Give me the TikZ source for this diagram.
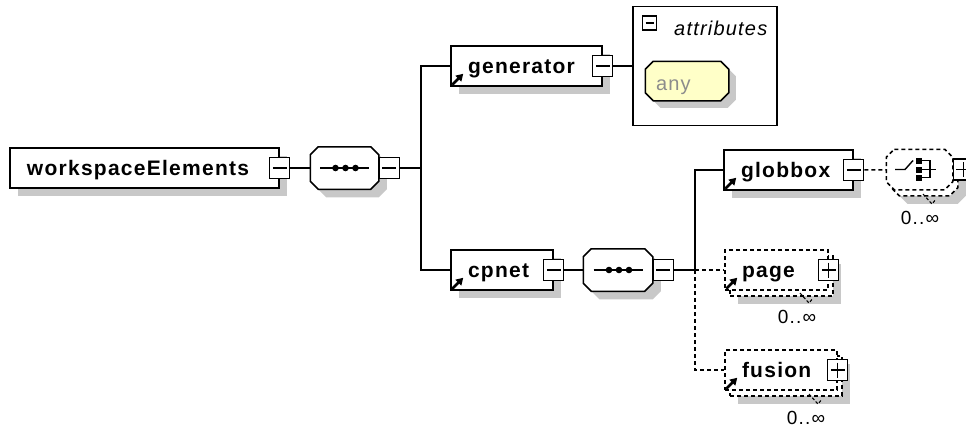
\documentclass[tikz,border=0pt]{standalone}
\usepackage{fontspec}
\setmainfont{Liberation Sans}
\newfontfamily\xsdfont[LetterSpace=6]{Liberation Sans}
\usetikzlibrary{arrows.meta,shadows}
\definecolor{shadegray}{RGB}{200,200,200}
\definecolor{anyfill}{RGB}{255,255,200}
\definecolor{anytext}{RGB}{140,140,140}

% rectangle with cut corners, for compositors and wildcards
\makeatletter
\pgfkeys{/pgf/octagon cut/.initial=8pt}
\pgfdeclareshape{octagon box}{
  \inheritsavedanchors[from=rectangle]
  \inheritanchorborder[from=rectangle]
  \inheritanchor[from=rectangle]{center}
  \inheritanchor[from=rectangle]{north}
  \inheritanchor[from=rectangle]{south}
  \inheritanchor[from=rectangle]{east}
  \inheritanchor[from=rectangle]{west}
  \inheritanchor[from=rectangle]{north east}
  \inheritanchor[from=rectangle]{north west}
  \inheritanchor[from=rectangle]{south east}
  \inheritanchor[from=rectangle]{south west}
  \inheritanchor[from=rectangle]{base}
  \inheritanchor[from=rectangle]{mid}
  \backgroundpath{%
    \pgfmathsetlengthmacro\octCut{\pgfkeysvalueof{/pgf/octagon cut}}%
    \southwest \edef\octL{\the\pgf@x}\edef\octB{\the\pgf@y}%
    \northeast \edef\octR{\the\pgf@x}\edef\octT{\the\pgf@y}%
    \pgfmathsetlengthmacro\octLc{\octL+\octCut}%
    \pgfmathsetlengthmacro\octRc{\octR-\octCut}%
    \pgfmathsetlengthmacro\octBc{\octB+\octCut}%
    \pgfmathsetlengthmacro\octTc{\octT-\octCut}%
    \pgfpathmoveto{\pgfpoint{\octLc}{\octT}}%
    \pgfpathlineto{\pgfpoint{\octRc}{\octT}}%
    \pgfpathlineto{\pgfpoint{\octR}{\octTc}}%
    \pgfpathlineto{\pgfpoint{\octR}{\octBc}}%
    \pgfpathlineto{\pgfpoint{\octRc}{\octB}}%
    \pgfpathlineto{\pgfpoint{\octLc}{\octB}}%
    \pgfpathlineto{\pgfpoint{\octL}{\octBc}}%
    \pgfpathlineto{\pgfpoint{\octL}{\octTc}}%
    \pgfpathclose
  }
}
\makeatother

\begin{document}
\begin{tikzpicture}[x=1pt, y=-1pt, line join=miter,
    elembase/.style={draw, line width=1.5pt, fill=white, inner xsep=17pt, inner ysep=0pt,
      minimum height=40pt, text height=17pt, text depth=3pt, align=left,
      font=\xsdfont\bfseries\fontsize{21}{21}\selectfont},
    elem/.style={elembase,
      general shadow={fill=shadegray, shadow xshift=8pt, shadow yshift=-8pt}},
    optelem/.style={elembase, dash pattern=on 4pt off 3pt,
      general shadow={fill=shadegray, shadow xshift=13pt, shadow yshift=-14pt},
      general shadow={draw=black, fill=white, line width=1.5pt, dash pattern=on 4pt off 3pt,
        shadow xshift=5pt, shadow yshift=-6pt}},
    compo/.style={octagon box, octagon cut=8pt, draw, line width=1.5pt,
      fill=white, inner sep=0pt, minimum height=41pt},
    seqcompo/.style={compo,
      general shadow={fill=shadegray, shadow xshift=8pt, shadow yshift=-8pt},
      path picture={
        \begin{scope}[shift={(path picture bounding box.center)}, solid, fill=black]
          \draw[line width=1.4pt] (-24.5,0) -- (24.5,0);
          \foreach \dx in {-9,1,11} \fill (\dx,0) circle (3.3pt);
        \end{scope}}},
    chocompo/.style={compo, dash pattern=on 4pt off 3pt,
      general shadow={fill=shadegray, shadow xshift=13pt, shadow yshift=-14pt},
      general shadow={draw=black, fill=white, line width=1.5pt, dash pattern=on 4pt off 3pt,
        shadow xshift=5pt, shadow yshift=-6pt},
      path picture={
        \begin{scope}[shift={(path picture bounding box.center)}, line width=1.4pt, solid, fill=black]
          \draw (-24.5,0) -- (-14.5,0) -- (-6.5,-9);
          \foreach \dy in {-9,0,8} \fill (-3.5,\dy-3) rectangle (2.5,\dy+3);
          \draw (2,-9) -- (10.5,-9) -- (10.5,8) -- (2,8);
          \draw (2,0) -- (16.5,0);
        \end{scope}}},
    minusbtn/.style={draw, fill=white, line width=1.3pt, inner sep=0pt, solid,
      minimum width=20pt, minimum height=21pt,
      path picture={\draw[line width=1.3pt]
        ([xshift=3pt]path picture bounding box.west) -- ([xshift=-3pt]path picture bounding box.east);}},
    plusbtn/.style={minusbtn,
      path picture={\draw[line width=1.3pt]
        ([xshift=3pt]path picture bounding box.west) -- ([xshift=-3pt]path picture bounding box.east)
        ([yshift=-3pt]path picture bounding box.north) -- ([yshift=3pt]path picture bounding box.south);}},
    smallminus/.style={minusbtn, line width=1.2pt, minimum width=14pt, minimum height=14pt},
    anyoct/.style={octagon box, octagon cut=8pt, draw, line width=1.5pt,
      fill=anyfill, inner sep=0pt, minimum width=82pt, minimum height=38pt,
      text width=62pt, align=left, text height=18pt, text depth=0pt, text=anytext,
      font=\xsdfont\fontsize{20}{20}\selectfont,
      general shadow={fill=shadegray, shadow xshift=7pt, shadow yshift=-7pt}},
    occ/.style={inner sep=0pt, font=\xsdfont\fontsize{19}{19}\selectfont},
    occtick/.style={line width=1.1pt, dash pattern=on 3pt off 2pt},
    conn/.style={line width=1.5pt},
    dconn/.style={conn, dash pattern=on 4pt off 3pt},
    refmark/.style={line width=2.6pt, -{Triangle[length=7pt,width=8pt]}}]
  \clip (0,0) rectangle (966,429);
  % root element and its sequence
  \node[elem, text width=235pt] (wE) at (144.5,168) {workspaceElements};
  \node[minusbtn] (wEb) at (wE.east) {};
  \node[seqcompo, minimum width=67pt] (seqA) at (344.5,168) {};
  \node[minusbtn, anchor=west] (seqAb) at (seqA.east) {};
  \coordinate (jA) at (421,168);
  % generator with its attributes
  \node[elem, text width=117pt] (gen) at (526.5,66) {generator};
  \node[minusbtn] (genb) at (gen.east) {};
  \node[draw, line width=1.5pt, minimum width=144pt, minimum height=119pt, inner sep=0pt] (attr) at (705,66) {};
  \node[smallminus] (attrb) at (649.5,23) {};
  \node[anchor=base west, inner sep=0pt, font=\xsdfont\itshape\fontsize{20}{20}\selectfont] (attrt) at (674,35) {attributes};
  \node[anyoct] (any) at (687,81) {any};
  % cpnet and its sequence
  \node[elem, text width=68pt] (cpnet) at (502,270) {cpnet};
  \node[minusbtn] (cpnetb) at (cpnet.east) {};
  \node[seqcompo, minimum width=68pt] (seqB) at (618,270) {};
  \node[minusbtn, anchor=west] (seqBb) at (seqB.east) {};
  \coordinate (jB) at (695,270);
  % children of cpnet
  \node[elem, text width=95pt] (glob) at (788.5,170) {globbox};
  \node[minusbtn] (globb) at (glob.east) {};
  \node[chocompo, minimum width=65pt, minimum height=39pt] (cho) at (919.5,169.5) {};
  \node[plusbtn, anchor=west] (chob) at (cho.east) {};
  \node[occ] (chocc) at (920,218) {0..∞};
  \node[optelem, text width=69pt] (page) at (776.5,270) {page};
  \node[plusbtn] (pageb) at (page.east) {};
  \node[occ] (pocc) at (797,317) {0..∞};
  \node[optelem, text width=78pt] (fus) at (781,370) {fusion};
  \node[plusbtn] (fusb) at (fus.east) {};
  \node[occ] (focc) at (806,418) {0..∞};
  % reference marks
  \draw[refmark] ([shift={(2pt,2pt)}]gen.south west) -- ([shift={(13pt,13pt)}]gen.south west);
  \draw[refmark] ([shift={(2pt,2pt)}]cpnet.south west) -- ([shift={(13pt,13pt)}]cpnet.south west);
  \draw[refmark] ([shift={(2pt,2pt)}]glob.south west) -- ([shift={(13pt,13pt)}]glob.south west);
  \draw[refmark] ([shift={(2pt,2pt)}]page.south west) -- ([shift={(13pt,13pt)}]page.south west);
  \draw[refmark] ([shift={(2pt,2pt)}]fus.south west) -- ([shift={(13pt,13pt)}]fus.south west);
  % occurrence ticks
  \draw[occtick] ([shift={(3pt,17pt)}]pocc.north) -- ([shift={(12pt,7pt)}]pocc.north) -- ([shift={(16pt,12pt)}]pocc.north);
  \draw[occtick] ([shift={(3pt,17pt)}]focc.north) -- ([shift={(12pt,7pt)}]focc.north) -- ([shift={(16pt,12pt)}]focc.north);
  \draw[occtick] ([shift={(3pt,17pt)}]chocc.north) -- ([shift={(12pt,7pt)}]chocc.north) -- ([shift={(16pt,12pt)}]chocc.north);
  % connectors
  \draw[conn] (wEb) -- (seqA);
  \draw[conn] (seqAb) -- (jA);
  \draw[conn] (gen.west) -| (jA) |- (cpnet.west);
  \draw[conn] (genb) -- (genb -| attr.west);
  \draw[conn] (cpnetb) -- (seqB);
  \draw[conn] (seqBb) -- (jB);
  \draw[conn] (jB) |- (glob.west);
  \draw[dconn] (jB) -- (page.west);
  \draw[dconn] (jB) |- (fus.west);
  \draw[dconn] (globb) -- (cho);
\end{tikzpicture}
\end{document}
